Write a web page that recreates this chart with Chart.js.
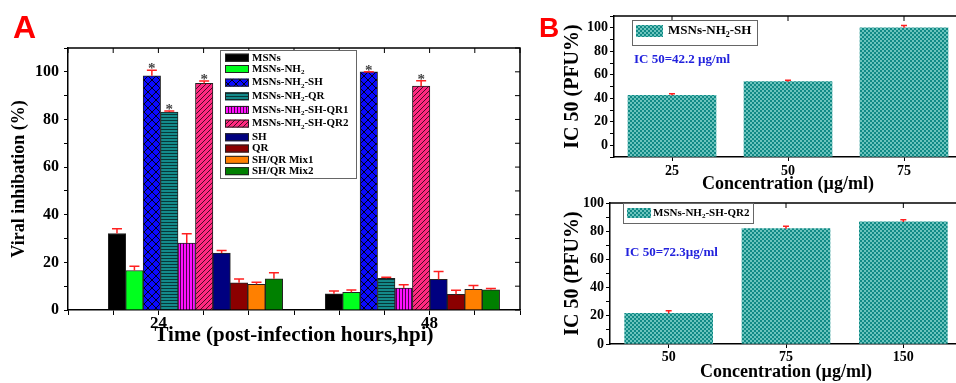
<!DOCTYPE html>
<html>
<head>
<meta charset="utf-8">
<script src="https://cdn.jsdelivr.net/npm/chart.js@4.4.1/dist/chart.umd.min.js"></script>
<style>
html,body{margin:0;padding:0;background:#fff;width:956px;height:383px;overflow:hidden;position:relative;}
canvas{position:absolute;}
</style>
</head>
<body>
<canvas id="chartA" width="540" height="383" style="left:0;top:0"></canvas>
<canvas id="chartB1" width="422" height="196" style="left:540px;top:0"></canvas>
<canvas id="chartB2" width="422" height="193" style="left:540px;top:190px"></canvas>
<script>
// panel A data
const hours = [24, 48]
const seriesNames = ['MSNs','MSNs-NH₂','MSNs-NH₂-SH','MSNs-NH₂-QR','MSNs-NH₂-SH-QR1','MSNs-NH₂-SH-QR2','SH','QR','SH/QR Mix1','SH/QR Mix2']
const inhibition24 = [32.1, 16.6, 98.3, 83.1, 28.1, 95.2, 23.9, 11.4, 10.8, 13.1]
const inhibition48 = [6.8, 7.4, 100, 13.3, 9.2, 94.0, 12.9, 6.6, 8.7, 8.5]
const error24 = [2.0, 1.8, 2.4, 0.4, 3.9, 0.9, 1.1, 1.6, 0.8, 2.5]
const error48 = [1.2, 1.0, 0, 0.4, 1.4, 2.3, 3.3, 1.7, 1.6, 0.5]
const star24 = [false, false, true, true, false, true, false, false, false, false]
const star48 = [false, false, true, false, false, true, false, false, false, false]
const hourTicks = [24, 48]

// panel B data
const concSH = ['25', '50', '75']
const ic50SH = [42.5, 54.1, 100]
const ic50SHErr = [1.4, 1.2, 2.0]
const concQR2 = ['50', '75', '150']
const ic50QR2 = [21.7, 81.8, 86.6]
const ic50QR2Err = [1.9, 1.7, 1.6]
const noteSH = 'IC 50=42.2 µg/ml'
const noteQR2 = 'IC 50=72.3µg/ml'

const SERIF = '"Liberation Serif", "Times New Roman", serif'
Chart.defaults.font.family = SERIF
Chart.defaults.font.weight = 'bold'
Chart.defaults.color = '#000'

function makePattern(bg, w, h, draw){
const c = document.createElement('canvas')
c.width = w; c.height = h
const g = c.getContext('2d')
g.fillStyle = bg
g.fillRect(0, 0, w, h)
if(draw) draw(g)
return g.createPattern(c, 'repeat')
}

const crossBlue = makePattern('#0a0aff', 8, 8, g=>{
g.strokeStyle = '#000'; g.lineWidth = 0.9
g.beginPath(); g.moveTo(0,0); g.lineTo(8,8); g.moveTo(8,0); g.lineTo(0,8); g.stroke()
})
const hlineTeal = makePattern('#148a8a', 3, 3, g=>{
g.fillStyle = '#073838'; g.fillRect(0, 0, 3, 1)
})
const vlineMagenta = makePattern('#ff10ff', 3, 3, g=>{
g.fillStyle = '#500050'; g.fillRect(0, 0, 1, 3)
})
const diagPink = makePattern('#ff2a80', 5, 5, g=>{
g.strokeStyle = '#200010'; g.lineWidth = 0.8
g.beginPath(); g.moveTo(-1,6); g.lineTo(6,-1); g.moveTo(-1,1); g.lineTo(1,-1); g.moveTo(4,6); g.lineTo(6,4); g.stroke()
})
const checkTeal = makePattern('#118a86', 4, 4, g=>{
g.fillStyle = '#6cc4bd'; g.fillRect(0, 0, 2, 2); g.fillRect(2, 2, 2, 2)
})

const seriesFill = ['#000000', '#00ff1e', crossBlue, hlineTeal, vlineMagenta, diagPink, '#000080', '#8b0000', '#ff8000', '#008000']

function drawRichText(ctx, text, x, y, size){
const parts = text.split('₂')
parts.forEach((p, i)=>{
ctx.font = 'bold ' + size + 'px ' + SERIF
ctx.fillText(p, x, y)
x += ctx.measureText(p).width
if(i < parts.length - 1){
ctx.font = 'bold ' + Math.round(size * 0.65) + 'px ' + SERIF
ctx.fillText('2', x, y + size * 0.3)
x += ctx.measureText('2').width
}
})
}

const errorBars = {
id: 'errorBars',
afterDatasetsDraw(chart, args, opts){
const ctx = chart.ctx
const y = chart.scales.y
ctx.save()
chart.data.datasets.forEach((ds, i)=>{
const meta = chart.getDatasetMeta(i)
meta.data.forEach((el, j)=>{
const d = ds.data[j]
const v = typeof d === 'object' ? d.y : d
const top = y.getPixelForValue(v + ds.errors[j])
ctx.strokeStyle = '#ff2020'
ctx.lineWidth = 1.5
ctx.beginPath()
ctx.moveTo(el.x, el.y); ctx.lineTo(el.x, top)
ctx.moveTo(el.x - opts.cap / 2, top); ctx.lineTo(el.x + opts.cap / 2, top)
ctx.stroke()
if(ds.stars && ds.stars[j]){
ctx.fillStyle = '#444'
ctx.font = 'bold 15px ' + SERIF
ctx.textAlign = 'center'
ctx.textBaseline = 'alphabetic'
ctx.fillText('*', el.x, top + 3)
}
})
})
ctx.restore()
}
}

const frame = {
id: 'frame',
afterDraw(chart, args, opts){
const {ctx, chartArea: a, scales: {x, y}} = chart
ctx.save()
ctx.strokeStyle = '#000'
ctx.lineWidth = 1.5
ctx.beginPath()
ctx.moveTo(a.left, a.top); ctx.lineTo(a.right, a.top); ctx.lineTo(a.right, a.bottom)
ctx.stroke()
ctx.lineWidth = 1
ctx.beginPath()
x.ticks.forEach((t, i)=>{ const px = x.getPixelForTick(i); ctx.moveTo(px, a.top); ctx.lineTo(px, a.top + 5) })
y.ticks.forEach((t, i)=>{ const py = y.getPixelForTick(i); ctx.moveTo(a.right, py); ctx.lineTo(a.right - 5, py) })
ctx.stroke()
// panel letter
if(opts.letter){
ctx.fillStyle = '#ff0000'
ctx.font = 'bold ' + opts.letter.size + 'px "Liberation Sans", Arial, sans-serif'
ctx.textAlign = 'left'
ctx.textBaseline = 'alphabetic'
ctx.fillText(opts.letter.text, opts.letter.x, opts.letter.y)
}
// note text
if(opts.note){
ctx.fillStyle = '#2222dd'
ctx.font = 'bold ' + opts.note.size + 'px ' + SERIF
ctx.textAlign = 'left'
ctx.textBaseline = 'middle'
ctx.fillText(opts.note.text, opts.note.x, opts.note.y)
}
ctx.restore()
}
}

const legendBox = {
id: 'legendBox',
afterDraw(chart, args, o){
const ctx = chart.ctx
ctx.save()
ctx.fillStyle = '#fff'
ctx.fillRect(o.x, o.y, o.w, o.h)
ctx.strokeStyle = '#666'
ctx.lineWidth = 1
ctx.strokeRect(o.x + 0.5, o.y + 0.5, o.w, o.h)
let cy = o.first
chart.data.datasets.forEach(ds=>{
ctx.fillStyle = ds.backgroundColor
ctx.fillRect(o.x + o.sx, cy - o.sh / 2, o.sw, o.sh)
if(o.swBorder){
ctx.strokeStyle = '#222'
ctx.strokeRect(o.x + o.sx + 0.5, cy - o.sh / 2 + 0.5, o.sw - 1, o.sh - 1)
}
ctx.fillStyle = '#000'
ctx.textAlign = 'left'
ctx.textBaseline = 'middle'
drawRichText(ctx, ds.label, o.x + o.tx, cy, o.size)
cy += ds.label.includes('₂') ? o.gapSub : o.gap
})
ctx.restore()
}
}

// ---------- panel A ----------
const datasetsA = seriesNames.map((name, i)=>({
label: name,
data: [{x: hours[0], y: inhibition24[i]}, {x: hours[1], y: inhibition48[i]}],
errors: [error24[i], error48[i]],
stars: [star24[i], star48[i]],
backgroundColor: seriesFill[i],
borderColor: '#222',
borderWidth: 1,
barThickness: 17.44,
xAxisID: 'xb'
}))

new Chart(document.getElementById('chartA'), {
type: 'bar',
data: {datasets: datasetsA},
options: {
responsive: false,
animation: false,
layout: {padding: {left: 0, top: 48, right: 20, bottom: 0}},
plugins: {
legend: {display: false},
tooltip: {enabled: false},
errorBars: {cap: 10},
frame: {letter: {text: 'A', x: 13, y: 38, size: 32}},
legendBox: {x: 220, y: 50, w: 136, h: 128, sx: 5, sw: 24, sh: 8, tx: 32, first: 57.7, gap: 11.3, gapSub: 13.65, size: 11, swBorder: true}
},
scales: {
xb: {type: 'linear', display: false, offset: false, min: 9.9, max: 59.9},
x: {
type: 'linear', position: 'bottom', offset: false, min: 16, max: 56,
ticks: {stepSize: 4, autoSkip: false, maxRotation: 0, padding: 0, font: {size: 17, lineHeight: 1},
callback: v => hourTicks.includes(v) ? String(v) : ''},
grid: {drawOnChartArea: false, offset: false, tickLength: 5, color: '#000', tickWidth: 1},
border: {color: '#000', width: 1.5},
title: {display: true, text: 'Time (post-infection hours,hpi)', font: {size: 21, lineHeight: 1.2}, padding: {top: 0, bottom: 35}},
afterFit: s => { s.height = 73 }
},
y: {
min: 0, max: 110,
ticks: {stepSize: 10, autoSkip: false, padding: 5, font: {size: 16},
callback: v => (v % 20 === 0 && v <= 100) ? String(v) : ''},
grid: {drawOnChartArea: false, tickLength: 4, color: '#000'},
border: {color: '#000', width: 1.5},
title: {display: true, text: 'Viral inhibation (%)', font: {size: 18, lineHeight: 1.2}, padding: {top: 9, bottom: 0}},
afterFit: s => { s.width = 68 }
}
}
},
plugins: [errorBars, frame, legendBox]
})

// ---------- panel B ----------
function icChart(id, labels, values, errs, name, yMin, base, yWidth, xHeight, padTop, note, legend, letter, xTitlePad, xTickPad){
return new Chart(document.getElementById(id), {
type: 'bar',
data: {
labels: labels,
datasets: [{
label: name,
data: values,
errors: errs,
backgroundColor: checkTeal,
borderWidth: 0,
barThickness: 88,
base: base
}]
},
options: {
responsive: false,
animation: false,
layout: {padding: {left: 0, top: padTop, right: 0, bottom: 0}},
plugins: {
legend: {display: false},
tooltip: {enabled: false},
errorBars: {cap: 6},
frame: {note: note, letter: letter},
legendBox: legend
},
scales: {
x: {
ticks: {padding: xTickPad, autoSkip: false, maxRotation: 0, font: {size: 14, lineHeight: 1}},
grid: {drawOnChartArea: false, offset: false, tickLength: 4, color: '#000'},
border: {color: '#000', width: 1.5},
title: {display: true, text: 'Concentration (µg/ml)', font: {size: 18, lineHeight: 1.2}, padding: {top: 0, bottom: xTitlePad}},
afterFit: s => { s.height = xHeight }
},
y: {
min: yMin, max: yMin < 0 ? 110 : 100,
ticks: {stepSize: 10, autoSkip: false, padding: 2, font: {size: 14},
callback: v => (v >= 0 && v <= 100 && v % 20 === 0) ? String(v) : ''},
grid: {drawOnChartArea: false, tickLength: 4, color: '#000'},
border: {color: '#000', width: 1.5},
title: {display: true, text: 'IC 50 (PFU%)', font: {size: 20, lineHeight: 1.2}, padding: {top: 21, bottom: 0}},
afterFit: s => { s.width = yWidth }
}
}
},
plugins: [errorBars, frame, legendBox]
})
}

icChart('chartB1', concSH, ic50SH, ic50SHErr, 'MSNs-NH₂-SH', -10, -10, 74, 39, 16,
{text: noteSH, x: 94, y: 60, size: 13},
{x: 92, y: 20, w: 125, h: 25, sx: 4, sw: 27, sh: 12, tx: 36, first: 31, gap: 20, gapSub: 20, size: 13, swBorder: false},
{text: 'B', x: -1, y: 37, size: 28}, 1, 3)

icChart('chartB2', concQR2, ic50QR2, ic50QR2Err, 'MSNs-NH₂-SH-QR2', 0, 0, 70, 39, 13,
{text: noteQR2, x: 85, y: 63, size: 13},
{x: 83, y: 13, w: 130, h: 20, sx: 4, sw: 24, sh: 10, tx: 30, first: 23, gap: 20, gapSub: 20, size: 11, swBorder: false},
null, 0, 2)
</script>
</body>
</html>
